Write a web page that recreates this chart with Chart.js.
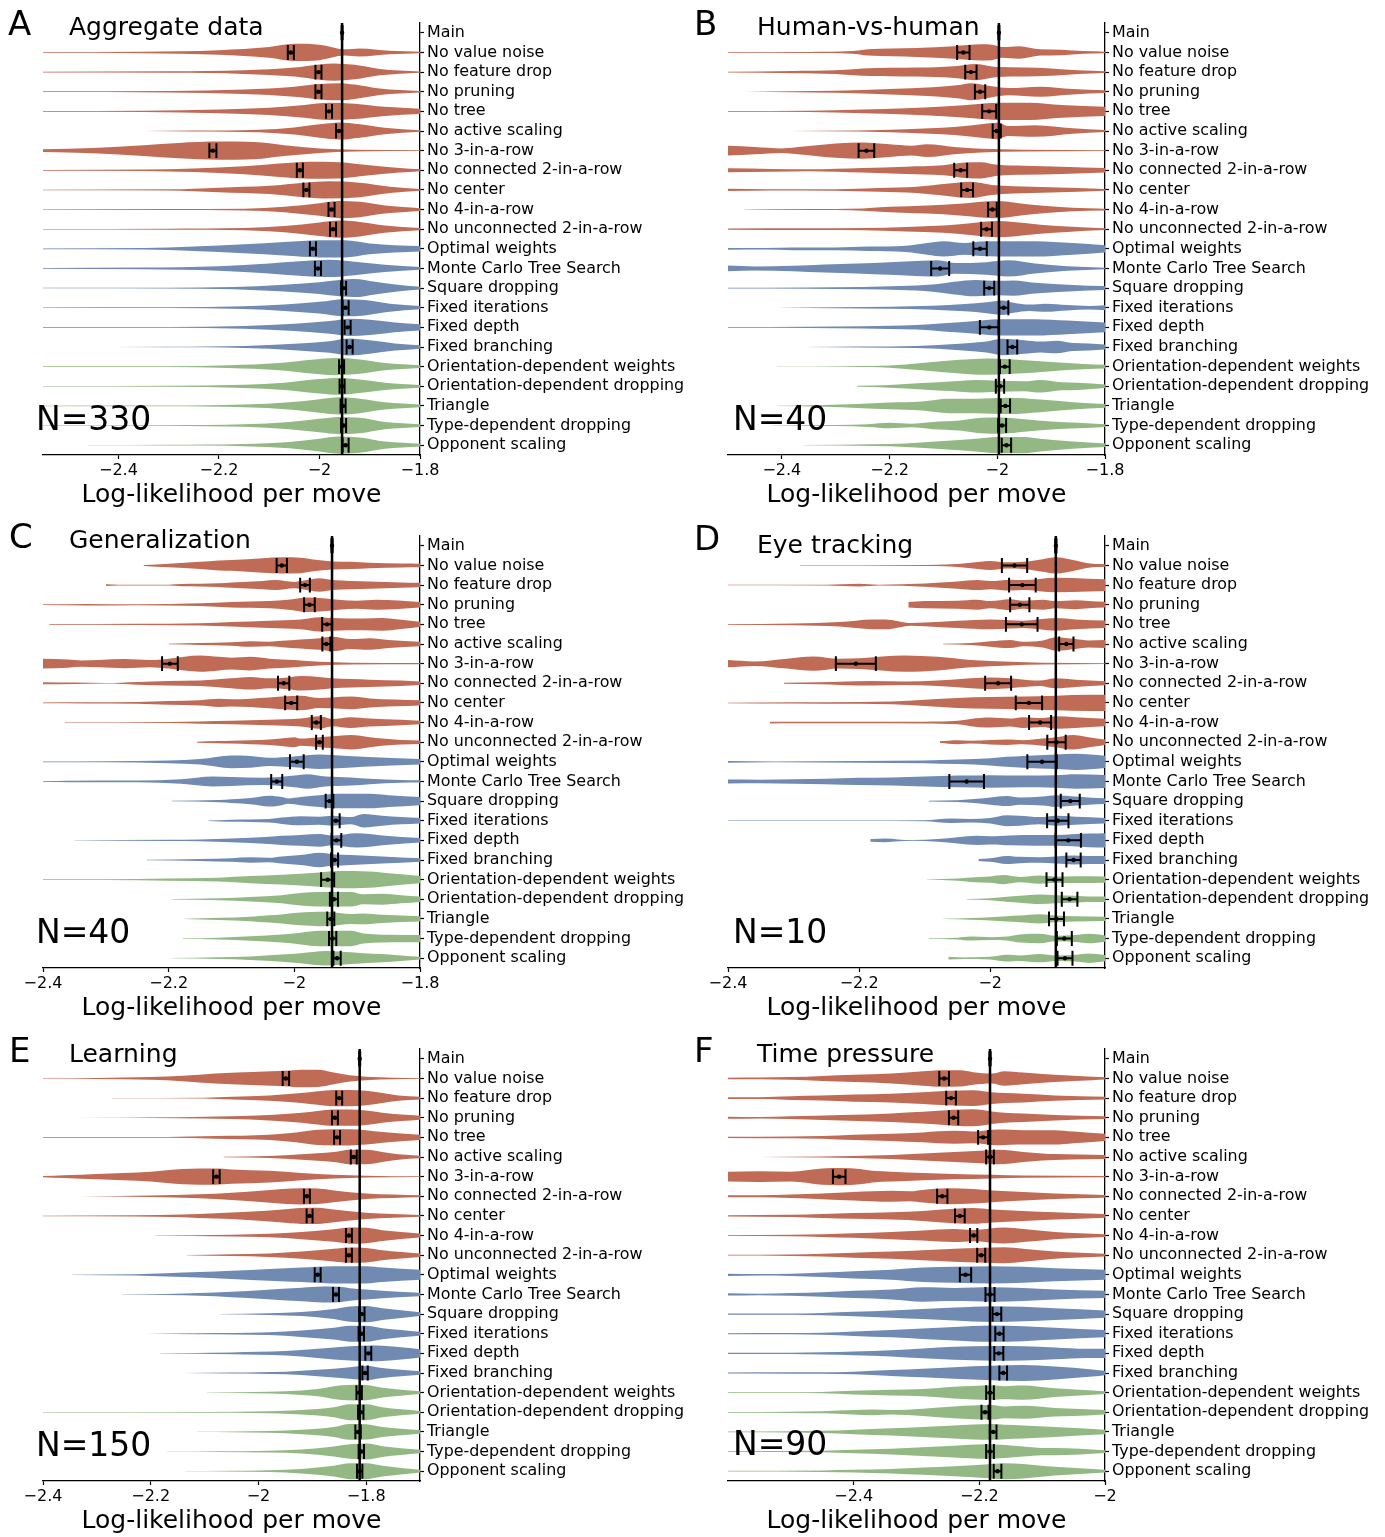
<!DOCTYPE html>
<html>
<head>
<meta charset="utf-8">
<script src="https://cdn.jsdelivr.net/npm/chart.js@4.4.0/dist/chart.umd.min.js"></script>
<style>
  body { margin: 0; background: #fff; width: 1385px; height: 1537px; overflow: hidden; position: relative; }
  .panel { position: absolute; width: 685px; height: 513px; }
</style>
</head>
<body>
<div class="panel" style="left:0;top:0"><canvas id="panelA" width="685" height="513"></canvas></div>
<div class="panel" style="left:685px;top:0"><canvas id="panelB" width="685" height="513"></canvas></div>
<div class="panel" style="left:0;top:513px"><canvas id="panelC" width="685" height="513"></canvas></div>
<div class="panel" style="left:685px;top:513px"><canvas id="panelD" width="685" height="513"></canvas></div>
<div class="panel" style="left:0;top:1026px"><canvas id="panelE" width="685" height="513"></canvas></div>
<div class="panel" style="left:685px;top:1026px"><canvas id="panelF" width="685" height="513"></canvas></div>
<script>
// model names, top to bottom
const models = ['Main', 'No value noise', 'No feature drop', 'No pruning', 'No tree', 'No active scaling',
  'No 3-in-a-row', 'No connected 2-in-a-row', 'No center', 'No 4-in-a-row', 'No unconnected 2-in-a-row',
  'Optimal weights', 'Monte Carlo Tree Search', 'Square dropping', 'Fixed iterations', 'Fixed depth', 'Fixed branching',
  'Orientation-dependent weights', 'Orientation-dependent dropping', 'Triangle', 'Type-dependent dropping', 'Opponent scaling'];
// 0 = lesion, 1 = extension, 2 = variant (Main has no violin)
const modelFamily = [-1, 0, 0, 0, 0, 0, 0, 0, 0, 0, 0, 1, 1, 1, 1, 1, 1, 2, 2, 2, 2, 2];
const familyColors = ['#c06b56', '#718ab2', '#93b884'];

// A: aggregate data
const aggregateRange = [-2.55, -1.8];
const aggregateTicks = [-2.4, -2.2, -2, -1.8];
const aggregateMeans = [-1.955, -2.057, -2.002, -2.002, -1.981, -1.961, -2.212, -2.039, -2.026, -1.976, -1.973,
  -2.013, -2.003, -1.952, -1.948, -1.944, -1.940, -1.956, -1.955, -1.953, -1.952, -1.948];
const aggregateErrors = [0.001, 0.006, 0.006, 0.006, 0.006, 0.006, 0.007, 0.006, 0.006, 0.006, 0.006,
  0.006, 0.006, 0.005, 0.006, 0.006, 0.006, 0.005, 0.005, 0.005, 0.005, 0.006];
const aggregateShapes = [
  [[-2.55,.04],[-2.35,.08],[-2.2,.25],[-2.1,.6],[-2.05,.95],[-2.0,.85],[-1.95,.35],[-1.92,.45],[-1.86,.2],[-1.8,.08]],
  [[-2.55,.04],[-2.3,.08],[-2.15,.2],[-2.05,.5],[-2.0,.85],[-1.97,.95],[-1.93,.8],[-1.88,.35],[-1.8,.06]],
  [[-2.55,.04],[-2.3,.08],[-2.15,.25],[-2.05,.55],[-2.0,.85],[-1.96,.95],[-1.93,.8],[-1.88,.35],[-1.8,.08]],
  [[-2.55,.05],[-2.35,.08],[-2.2,.2],[-2.1,.4],[-2.03,.7],[-1.98,.95],[-1.93,.85],[-1.87,.5],[-1.8,.3]],
  [[-2.35,.01],[-2.25,.05],[-2.12,.15],[-2.05,.4],[-2.0,.75],[-1.96,.95],[-1.92,.75],[-1.87,.35],[-1.8,.08]],
  [[-2.6,.1],[-2.55,.15],[-2.45,.3],[-2.35,.6],[-2.28,.85],[-2.2,1],[-2.13,.95],[-2.07,.6],[-2.0,.25],[-1.93,.1],[-1.8,.05]],
  [[-2.55,.04],[-2.35,.08],[-2.25,.2],[-2.15,.45],[-2.08,.75],[-2.02,.95],[-1.96,.9],[-1.9,.55],[-1.84,.25],[-1.8,.1]],
  [[-2.55,.03],[-2.3,.06],[-2.2,.25],[-2.1,.45],[-2.03,.8],[-1.98,.95],[-1.92,.8],[-1.86,.35],[-1.8,.1]],
  [[-2.55,.03],[-2.3,.05],[-2.15,.1],[-2.07,.3],[-2.0,.7],[-1.96,.95],[-1.92,.85],[-1.87,.45],[-1.8,.15]],
  [[-2.55,.03],[-2.3,.05],[-2.15,.12],[-2.07,.35],[-2.0,.75],[-1.96,.95],[-1.92,.8],[-1.87,.4],[-1.8,.12]],
  [[-2.55,.04],[-2.35,.08],[-2.25,.25],[-2.15,.5],[-2.07,.75],[-2.0,.95],[-1.95,.95],[-1.9,.6],[-1.85,.4],[-1.8,.3]],
  [[-2.55,.04],[-2.35,.1],[-2.2,.25],[-2.1,.55],[-2.04,.8],[-1.98,.95],[-1.93,.75],[-1.87,.4],[-1.8,.15]],
  [[-2.55,.03],[-2.3,.04],[-2.17,.12],[-2.08,.35],[-2.0,.65],[-1.96,.9],[-1.93,1],[-1.89,.7],[-1.84,.35],[-1.8,.15]],
  [[-2.55,.03],[-2.3,.04],[-2.15,.15],[-2.07,.35],[-2.0,.65],[-1.95,.95],[-1.91,.85],[-1.86,.45],[-1.8,.18]],
  [[-2.55,.03],[-2.3,.04],[-2.15,.15],[-2.05,.4],[-1.98,.7],[-1.94,.95],[-1.9,.85],[-1.85,.55],[-1.8,.35]],
  [[-2.52,.01],[-2.3,.04],[-2.15,.12],[-2.05,.35],[-1.98,.65],[-1.94,.95],[-1.9,.75],[-1.85,.4],[-1.8,.18]],
  [[-2.55,.03],[-2.3,.05],[-2.18,.15],[-2.08,.4],[-2.01,.8],[-1.97,.95],[-1.92,.8],[-1.87,.4],[-1.8,.15]],
  [[-2.55,.03],[-2.3,.05],[-2.15,.18],[-2.07,.4],[-2.0,.8],[-1.96,.95],[-1.92,.75],[-1.87,.4],[-1.8,.15]],
  [[-2.55,.03],[-2.3,.04],[-2.15,.15],[-2.06,.4],[-2.0,.75],[-1.96,.95],[-1.92,.8],[-1.87,.4],[-1.8,.15]],
  [[-2.55,.03],[-2.3,.04],[-2.15,.14],[-2.06,.4],[-2.0,.75],[-1.96,.95],[-1.92,.85],[-1.87,.4],[-1.8,.15]],
  [[-2.46,.01],[-2.3,.04],[-2.15,.12],[-2.06,.35],[-2.0,.7],[-1.96,.95],[-1.92,.85],[-1.87,.4],[-1.8,.15]]
];

// B: human-vs-human
const hvhRange = [-2.5, -1.8];
const hvhTicks = [-2.4, -2.2, -2, -1.8];
const hvhMeans = [-1.997, -2.063, -2.049, -2.032, -2.015, -2.001, -2.243, -2.068, -2.056, -2.009, -2.020,
  -2.032, -2.106, -2.015, -1.988, -2.015, -1.972, -1.986, -1.995, -1.985, -1.991, -1.983];
const hvhErrors = [0.001, 0.0115, 0.0105, 0.0096, 0.013, 0.0075, 0.0145, 0.012, 0.011, 0.008, 0.010,
  0.0125, 0.0167, 0.0093, 0.0085, 0.0173, 0.009, 0.009, 0.0077, 0.0087, 0.0074, 0.0087];
const hvhShapes = [
  [[-2.5,.04],[-2.35,.06],[-2.27,.15],[-2.24,.35],[-2.15,.5],[-2.08,.7],[-2.03,.9],[-2.01,.85],[-1.99,.6],[-1.96,.7],[-1.92,.35],[-1.88,.3],[-1.84,.15],[-1.8,.08]],
  [[-2.5,.04],[-2.38,.12],[-2.3,.2],[-2.25,.4],[-2.15,.5],[-2.08,.65],[-2.04,.9],[-2.0,.55],[-1.95,.5],[-1.9,.4],[-1.85,.2],[-1.8,.1]],
  [[-2.465,.01],[-2.38,.05],[-2.3,.1],[-2.2,.3],[-2.12,.5],[-2.07,.75],[-2.05,.95],[-2.01,.6],[-1.98,.4],[-1.92,.55],[-1.86,.3],[-1.8,.15]],
  [[-2.5,.04],[-2.35,.08],[-2.25,.2],[-2.17,.35],[-2.1,.55],[-2.04,.8],[-2.0,.95],[-1.94,.95],[-1.88,.7],[-1.8,.5]],
  [[-2.385,.01],[-2.26,.06],[-2.17,.2],[-2.08,.45],[-2.03,.75],[-2.0,.9],[-1.98,.55],[-1.93,.65],[-1.86,.3],[-1.8,.12]],
  [[-2.55,.6],[-2.5,.55],[-2.45,.4],[-2.4,.25],[-2.36,.45],[-2.3,.8],[-2.25,.9],[-2.2,.7],[-2.16,.55],[-2.13,.7],[-2.08,.4],[-2.03,.2],[-1.95,.1],[-1.8,.04]],
  [[-2.5,.22],[-2.42,.15],[-2.35,.1],[-2.25,.25],[-2.17,.4],[-2.1,.55],[-2.06,.85],[-2.03,.9],[-2.0,.6],[-1.95,.5],[-1.88,.4],[-1.8,.25]],
  [[-2.5,.12],[-2.42,.06],[-2.3,.08],[-2.22,.2],[-2.15,.35],[-2.09,.7],[-2.05,.9],[-2.01,.55],[-1.97,.4],[-1.9,.3],[-1.8,.1]],
  [[-2.47,.01],[-2.35,.05],[-2.25,.12],[-2.2,.3],[-2.13,.45],[-2.07,.65],[-2.0,.95],[-1.96,.7],[-1.92,.45],[-1.86,.2],[-1.8,.1]],
  [[-2.5,.07],[-2.35,.1],[-2.25,.12],[-2.17,.25],[-2.1,.4],[-2.05,.65],[-2.0,.9],[-1.97,.8],[-1.92,.5],[-1.87,.3],[-1.8,.1]],
  [[-2.5,.1],[-2.43,.08],[-2.38,.15],[-2.3,.15],[-2.24,.25],[-2.17,.35],[-2.13,.65],[-2.1,.85],[-2.06,.65],[-2.03,.8],[-2.0,.85],[-1.93,.85],[-1.86,.65],[-1.8,.4]],
  [[-2.5,.32],[-2.45,.22],[-2.38,.3],[-2.32,.45],[-2.26,.55],[-2.2,.7],[-2.14,.85],[-2.11,.9],[-2.08,.6],[-2.02,.7],[-1.98,.9],[-1.93,.55],[-1.87,.25],[-1.8,.08]],
  [[-2.5,.04],[-2.35,.06],[-2.25,.12],[-2.18,.22],[-2.12,.4],[-2.08,.7],[-2.04,.9],[-2.0,.8],[-1.97,.85],[-1.93,.6],[-1.86,.35],[-1.8,.22]],
  [[-2.41,.01],[-2.3,.05],[-2.2,.12],[-2.12,.22],[-2.06,.4],[-2.02,.6],[-1.99,.8],[-1.97,.55],[-1.94,.35],[-1.91,.45],[-1.87,.3],[-1.83,.2],[-1.8,.28]],
  [[-2.5,.04],[-2.35,.07],[-2.25,.12],[-2.15,.25],[-2.1,.45],[-2.04,.7],[-2.0,.9],[-1.93,.9],[-1.87,.75],[-1.8,.55]],
  [[-2.36,.01],[-2.25,.06],[-2.15,.12],[-2.07,.35],[-2.02,.6],[-1.99,.9],[-1.95,.75],[-1.92,.6],[-1.89,.7],[-1.86,.45],[-1.83,.4],[-1.8,.28]],
  [[-2.41,.01],[-2.27,.05],[-2.2,.12],[-2.14,.4],[-2.07,.75],[-2.02,.9],[-1.97,.8],[-1.9,.5],[-1.84,.3],[-1.8,.22]],
  [[-2.26,.06],[-2.2,.15],[-2.14,.35],[-2.08,.55],[-2.04,.7],[-2.0,.6],[-1.95,.55],[-1.92,.7],[-1.88,.45],[-1.85,.4],[-1.8,.2]],
  [[-2.41,.01],[-2.32,.1],[-2.26,.22],[-2.2,.38],[-2.14,.5],[-2.09,.8],[-2.04,.8],[-1.98,.9],[-1.92,.7],[-1.86,.4],[-1.8,.2]],
  [[-2.42,.01],[-2.3,.06],[-2.24,.15],[-2.2,.3],[-2.16,.2],[-2.12,.4],[-2.07,.55],[-2.03,.85],[-1.99,.9],[-1.95,.7],[-1.9,.45],[-1.85,.3],[-1.8,.15]],
  [[-2.36,.01],[-2.23,.1],[-2.17,.2],[-2.1,.45],[-2.04,.7],[-2.0,.9],[-1.95,.9],[-1.92,.7],[-1.86,.4],[-1.8,.2]]
];

// C: generalization
const genRange = [-2.4, -1.8];
const genTicks = [-2.4, -2.2, -2, -1.8];
const genMeans = [-1.940, -2.020, -1.983, -1.976, -1.948, -1.949, -2.198, -2.017, -2.005, -1.965, -1.960,
  -1.996, -2.028, -1.944, -1.934, -1.933, -1.936, -1.947, -1.937, -1.942, -1.939, -1.932];
const genErrors = [0.001, 0.0082, 0.0077, 0.0085, 0.0077, 0.0064, 0.0125, 0.009, 0.0096, 0.0072, 0.0053,
  0.0109, 0.0088, 0.0061, 0.0061, 0.0077, 0.0056, 0.0104, 0.0064, 0.0056, 0.0058, 0.0058];
const genShapes = [
  [[-2.24,.05],[-2.2,.2],[-2.15,.4],[-2.12,.55],[-2.1,.6],[-2.05,.8],[-2.02,.9],[-1.99,.85],[-1.97,.65],[-1.94,.45],[-1.91,.4],[-1.88,.3],[-1.83,.22],[-1.8,.2]],
  [[-2.3,.1],[-2.28,.05],[-2.2,.05],[-2.18,.12],[-2.12,.2],[-2.1,.3],[-2.05,.45],[-2.03,.55],[-2.0,.35],[-1.98,.55],[-1.96,.75],[-1.94,.55],[-1.91,.45],[-1.88,.4],[-1.83,.3],[-1.8,.25]],
  [[-2.4,.04],[-2.33,.08],[-2.25,.05],[-2.15,.15],[-2.1,.3],[-2.04,.4],[-2.01,.55],[-1.98,.8],[-1.95,.7],[-1.93,.55],[-1.9,.45],[-1.87,.55],[-1.8,.3]],
  [[-2.39,.03],[-2.25,.06],[-2.15,.12],[-2.1,.25],[-2.04,.4],[-1.99,.55],[-1.96,.8],[-1.94,.7],[-1.89,.65],[-1.86,.7],[-1.83,.5],[-1.8,.3]],
  [[-2.2,.02],[-2.15,.1],[-2.1,.18],[-2.07,.3],[-2.04,.25],[-2.02,.35],[-1.99,.5],[-1.96,.65],[-1.94,.8],[-1.91,.55],[-1.88,.65],[-1.85,.45],[-1.8,.25]],
  [[-2.45,.6],[-2.4,.55],[-2.36,.45],[-2.34,.35],[-2.31,.4],[-2.27,.5],[-2.23,.4],[-2.2,.55],[-2.15,.9],[-2.12,.75],[-2.1,.65],[-2.07,.75],[-2.04,.55],[-2.0,.4],[-1.96,.2],[-1.91,.1],[-1.8,.06]],
  [[-2.4,.12],[-2.35,.08],[-2.3,.03],[-2.25,.15],[-2.2,.25],[-2.15,.3],[-2.1,.55],[-2.07,.7],[-2.04,.55],[-2.01,.65],[-1.99,.8],[-1.96,.7],[-1.94,.55],[-1.88,.4],[-1.83,.3],[-1.8,.2]],
  [[-2.4,.04],[-2.33,.06],[-2.25,.1],[-2.2,.2],[-2.15,.3],[-2.12,.45],[-2.1,.4],[-2.04,.6],[-2.02,.7],[-1.99,.8],[-1.96,.55],[-1.94,.6],[-1.91,.7],[-1.88,.5],[-1.8,.3]],
  [[-2.365,.02],[-2.2,.05],[-2.15,.12],[-2.1,.2],[-2.04,.3],[-1.99,.45],[-1.96,.7],[-1.94,.4],[-1.91,.6],[-1.88,.45],[-1.83,.3],[-1.8,.2]],
  [[-2.155,.05],[-2.12,.12],[-2.1,.15],[-2.07,.22],[-2.04,.3],[-2.01,.5],[-2.0,.55],[-1.99,.4],[-1.96,.55],[-1.94,.65],[-1.91,.8],[-1.88,.55],[-1.86,.4],[-1.83,.25],[-1.8,.2]],
  [[-2.4,.04],[-2.3,.06],[-2.2,.15],[-2.15,.3],[-2.1,.7],[-2.07,.65],[-2.04,.45],[-2.0,.6],[-1.96,.8],[-1.94,.75],[-1.89,.55],[-1.8,.3]],
  [[-2.4,.04],[-2.36,.08],[-2.25,.1],[-2.18,.25],[-2.13,.55],[-2.1,.5],[-2.05,.4],[-2.0,.65],[-1.98,.8],[-1.95,.55],[-1.91,.45],[-1.88,.3],[-1.83,.15],[-1.8,.12]],
  [[-2.195,.03],[-2.12,.12],[-2.1,.2],[-2.07,.35],[-2.04,.6],[-2.02,.45],[-2.01,.3],[-1.99,.45],[-1.96,.65],[-1.93,.8],[-1.88,.8],[-1.85,.65],[-1.8,.45]],
  [[-2.137,.02],[-2.1,.12],[-2.04,.2],[-2.02,.35],[-1.99,.5],[-1.96,.45],[-1.94,.55],[-1.91,.4],[-1.89,.75],[-1.86,.55],[-1.83,.4],[-1.8,.3]],
  [[-2.35,.02],[-2.2,.06],[-2.15,.1],[-2.1,.22],[-2.04,.4],[-2.02,.5],[-1.99,.6],[-1.96,.7],[-1.94,.55],[-1.9,.8],[-1.86,.55],[-1.8,.25]],
  [[-2.235,.02],[-2.15,.1],[-2.1,.2],[-2.07,.3],[-2.04,.25],[-2.02,.4],[-1.99,.55],[-1.96,.8],[-1.94,.65],[-1.91,.55],[-1.86,.4],[-1.8,.2]],
  [[-2.4,.03],[-2.3,.05],[-2.2,.12],[-2.12,.22],[-2.07,.4],[-2.02,.55],[-1.96,.8],[-1.93,.95],[-1.88,.9],[-1.85,.7],[-1.8,.4]],
  [[-2.195,.02],[-2.12,.1],[-2.07,.25],[-2.02,.45],[-1.99,.7],[-1.96,.8],[-1.91,.8],[-1.89,.55],[-1.86,.6],[-1.83,.45],[-1.8,.3]],
  [[-2.175,.02],[-2.12,.12],[-2.07,.25],[-2.04,.4],[-2.02,.5],[-1.99,.7],[-1.96,.8],[-1.94,.75],[-1.91,.55],[-1.89,.6],[-1.86,.45],[-1.8,.3]],
  [[-2.178,.02],[-2.12,.1],[-2.07,.25],[-2.02,.45],[-1.99,.65],[-1.96,.85],[-1.91,.85],[-1.89,.55],[-1.83,.4],[-1.8,.4]],
  [[-2.195,.02],[-2.12,.1],[-2.07,.2],[-2.02,.4],[-1.99,.55],[-1.95,.8],[-1.91,.65],[-1.89,.55],[-1.86,.45],[-1.83,.3],[-1.8,.15]]
];

// D: eye tracking
const eyeRange = [-2.4, -1.825];
const eyeTicks = [-2.4, -2.2, -2];
const eyeMeans = [-1.900, -1.963, -1.951, -1.955, -1.952, -1.884, -2.205, -1.988, -1.941, -1.924, -1.899,
  -1.921, -2.036, -1.878, -1.897, -1.881, -1.873, -1.902, -1.879, -1.899, -1.887, -1.886];
const eyeErrors = [0.001, 0.0193, 0.0203, 0.0147, 0.0241, 0.0109, 0.0305, 0.0198, 0.0201, 0.0168, 0.014,
  0.0224, 0.0264, 0.0145, 0.0163, 0.0193, 0.0109, 0.0122, 0.0119, 0.0114, 0.0114, 0.0114];
const eyeShapes = [
  [[-2.29,.03],[-2.1,.06],[-2.06,.12],[-2.03,.3],[-2.0,.5],[-1.975,.35],[-1.95,.4],[-1.92,.7],[-1.9,.9],[-1.87,.55],[-1.85,.25],[-1.82,.12]],
  [[-2.4,.03],[-2.25,.04],[-2.2,.15],[-2.17,.05],[-2.1,.18],[-2.05,.4],[-2.02,.55],[-2.0,.45],[-1.97,.6],[-1.95,.55],[-1.9,.8],[-1.85,.7],[-1.82,.65]],
  [[-2.125,.3],[-2.1,.4],[-2.05,.45],[-2.02,.55],[-2.0,.4],[-1.97,.6],[-1.95,.45],[-1.92,.55],[-1.9,.4],[-1.87,.5],[-1.85,.4],[-1.82,.3]],
  [[-2.4,.03],[-2.3,.1],[-2.23,.25],[-2.18,.55],[-2.16,.55],[-2.12,.15],[-2.1,.2],[-2.05,.4],[-2.0,.55],[-1.97,.45],[-1.95,.4],[-1.9,.7],[-1.87,.55],[-1.82,.4]],
  [[-2.072,.03],[-2.03,.1],[-2.0,.3],[-1.97,.45],[-1.95,.25],[-1.92,.4],[-1.9,.75],[-1.87,.55],[-1.85,.4],[-1.82,.45]],
  [[-2.4,.4],[-2.36,.25],[-2.31,.55],[-2.27,.8],[-2.23,.55],[-2.2,.6],[-2.13,.9],[-2.08,.75],[-2.03,.4],[-1.97,.2],[-1.92,.1],[-1.82,.04]],
  [[-2.315,.05],[-2.26,.1],[-2.23,.18],[-2.18,.25],[-2.13,.2],[-2.08,.3],[-2.03,.55],[-2.0,.65],[-1.97,.55],[-1.955,.45],[-1.925,.3],[-1.9,.55],[-1.87,.4],[-1.82,.2]],
  [[-2.4,.03],[-2.3,.06],[-2.2,.1],[-2.15,.15],[-2.1,.35],[-2.05,.55],[-2.0,.65],[-1.95,.7],[-1.9,.8],[-1.85,.9],[-1.82,.9]],
  [[-2.336,.1],[-2.3,.08],[-2.2,.08],[-2.1,.1],[-2.05,.2],[-2.03,.4],[-2.0,.55],[-1.97,.45],[-1.95,.6],[-1.92,.5],[-1.9,.7],[-1.87,.6],[-1.82,.4]],
  [[-2.077,.1],[-2.05,.22],[-2.03,.15],[-2.0,.25],[-1.975,.3],[-1.95,.22],[-1.92,.4],[-1.9,.55],[-1.875,.8],[-1.85,.55],[-1.825,.3]],
  [[-2.4,.1],[-2.33,.04],[-2.2,.1],[-2.1,.15],[-2.05,.25],[-2.0,.4],[-1.975,.55],[-1.95,.65],[-1.9,.8],[-1.87,.9],[-1.82,.65]],
  [[-2.4,.22],[-2.35,.2],[-2.3,.25],[-2.25,.3],[-2.2,.4],[-2.15,.45],[-2.1,.55],[-2.05,.65],[-2.0,.7],[-1.95,.65],[-1.9,.7],[-1.87,.8],[-1.82,.7]],
  [[-2.094,.05],[-2.05,.1],[-2.02,.25],[-2.0,.4],[-1.975,.55],[-1.955,.4],[-1.92,.5],[-1.9,.65],[-1.87,.5],[-1.85,.4],[-1.82,.3]],
  [[-2.4,.03],[-2.2,.03],[-2.1,.06],[-2.06,.25],[-2.03,.2],[-2.0,.3],[-1.975,.6],[-1.955,.55],[-1.925,.4],[-1.9,.55],[-1.87,.45],[-1.82,.3]],
  [[-2.183,.15],[-2.16,.2],[-2.14,.1],[-2.12,.03],[-2.08,.15],[-2.05,.35],[-2.02,.5],[-2.0,.45],[-1.97,.55],[-1.93,.6],[-1.9,.6],[-1.85,.75],[-1.82,.8]],
  [[-2.018,.1],[-2.0,.2],[-1.975,.45],[-1.955,.35],[-1.925,.3],[-1.9,.4],[-1.873,.5],[-1.85,.45],[-1.82,.45]],
  [[-2.097,.02],[-2.05,.12],[-2.03,.25],[-2.0,.35],[-1.98,.5],[-1.955,.3],[-1.925,.45],[-1.9,.35],[-1.87,.38],[-1.82,.35]],
  [[-2.036,.03],[-2.0,.12],[-1.975,.28],[-1.955,.38],[-1.925,.52],[-1.9,.45],[-1.87,.38],[-1.85,.3],[-1.82,.3]],
  [[-2.072,.02],[-2.03,.1],[-2.0,.18],[-1.975,.3],[-1.955,.38],[-1.925,.52],[-1.9,.38],[-1.87,.3],[-1.82,.22]],
  [[-2.094,.02],[-2.05,.1],[-2.03,.22],[-2.0,.15],[-1.975,.22],[-1.955,.45],[-1.925,.52],[-1.9,.3],[-1.87,.38],[-1.85,.52],[-1.82,.3]],
  [[-2.064,.15],[-2.04,.08],[-2.0,.15],[-1.975,.38],[-1.955,.3],[-1.925,.45],[-1.9,.3],[-1.87,.38],[-1.85,.52],[-1.82,.3]]
];

// E: learning
const learnRange = [-2.4, -1.7];
const learnTicks = [-2.4, -2.2, -2, -1.8];
const learnMeans = [-1.812, -1.949, -1.850, -1.858, -1.854, -1.823, -2.078, -1.910, -1.905, -1.832, -1.832,
  -1.890, -1.856, -1.808, -1.809, -1.796, -1.802, -1.813, -1.810, -1.815, -1.809, -1.812];
const learnErrors = [0.001, 0.006, 0.0055, 0.0055, 0.0055, 0.0055, 0.006, 0.0055, 0.0055, 0.0055, 0.0055,
  0.0055, 0.0055, 0.005, 0.005, 0.0055, 0.005, 0.005, 0.005, 0.005, 0.005, 0.005];
const learnShapes = [
  [[-2.4,.03],[-2.3,.06],[-2.2,.15],[-2.14,.3],[-2.08,.55],[-2.0,.75],[-1.95,.85],[-1.92,.97],[-1.89,.95],[-1.86,.65],[-1.83,.35],[-1.8,.2],[-1.7,.04]],
  [[-2.273,.01],[-2.1,.05],[-2.05,.15],[-1.98,.3],[-1.92,.55],[-1.89,.75],[-1.86,.9],[-1.83,.9],[-1.8,.8],[-1.77,.55],[-1.74,.3],[-1.7,.15]],
  [[-2.34,.01],[-2.15,.05],[-2.05,.15],[-1.98,.3],[-1.92,.55],[-1.89,.75],[-1.86,.9],[-1.83,.9],[-1.8,.8],[-1.77,.55],[-1.7,.22]],
  [[-2.4,.03],[-2.17,.05],[-2.08,.15],[-1.98,.3],[-1.93,.55],[-1.89,.85],[-1.83,.9],[-1.8,.8],[-1.77,.6],[-1.7,.3]],
  [[-2.065,.02],[-1.98,.1],[-1.92,.3],[-1.86,.55],[-1.83,.8],[-1.8,.8],[-1.77,.55],[-1.74,.3],[-1.7,.15]],
  [[-2.4,.06],[-2.36,.15],[-2.3,.3],[-2.2,.55],[-2.14,.85],[-2.08,.9],[-2.05,.8],[-1.98,.65],[-1.92,.4],[-1.86,.22],[-1.8,.1],[-1.7,.03]],
  [[-2.335,.01],[-2.2,.08],[-2.11,.22],[-2.05,.4],[-1.99,.65],[-1.92,.9],[-1.89,.85],[-1.86,.65],[-1.8,.3],[-1.7,.1]],
  [[-2.4,.03],[-2.23,.06],[-2.14,.15],[-2.08,.3],[-2.02,.45],[-1.95,.75],[-1.91,.9],[-1.89,.9],[-1.86,.7],[-1.8,.35],[-1.7,.1]],
  [[-2.192,.01],[-2.05,.1],[-1.98,.2],[-1.92,.4],[-1.86,.7],[-1.83,.9],[-1.8,.85],[-1.77,.6],[-1.7,.22]],
  [[-2.133,.01],[-2.05,.1],[-1.98,.2],[-1.92,.4],[-1.86,.7],[-1.83,.85],[-1.8,.8],[-1.77,.55],[-1.7,.2]],
  [[-2.347,.01],[-2.23,.07],[-2.17,.18],[-2.11,.3],[-2.05,.45],[-1.98,.65],[-1.92,.8],[-1.86,.95],[-1.8,.95],[-1.77,.8],[-1.7,.55]],
  [[-2.254,.01],[-2.17,.06],[-2.11,.15],[-2.05,.3],[-1.99,.5],[-1.92,.75],[-1.88,.88],[-1.85,.85],[-1.83,.7],[-1.8,.55],[-1.74,.3],[-1.7,.2]],
  [[-2.071,.01],[-1.98,.1],[-1.92,.22],[-1.86,.55],[-1.83,.85],[-1.8,.9],[-1.77,.65],[-1.7,.2]],
  [[-2.208,.01],[-2.11,.05],[-1.98,.15],[-1.92,.35],[-1.86,.65],[-1.83,.88],[-1.8,.88],[-1.77,.6],[-1.7,.22]],
  [[-2.183,.01],[-2.05,.1],[-1.95,.25],[-1.89,.5],[-1.83,.8],[-1.79,.88],[-1.77,.85],[-1.73,.65],[-1.7,.45]],
  [[-2.142,.01],[-2.05,.06],[-1.95,.15],[-1.89,.35],[-1.83,.65],[-1.8,.8],[-1.77,.55],[-1.7,.2]],
  [[-2.096,.01],[-1.98,.1],[-1.92,.25],[-1.89,.4],[-1.85,.8],[-1.82,.88],[-1.8,.85],[-1.77,.55],[-1.7,.15]],
  [[-2.4,.02],[-2.1,.04],[-1.98,.1],[-1.92,.25],[-1.86,.55],[-1.83,.88],[-1.8,.88],[-1.77,.55],[-1.7,.15]],
  [[-2.114,.01],[-1.98,.1],[-1.92,.25],[-1.86,.55],[-1.83,.88],[-1.8,.85],[-1.77,.55],[-1.7,.2]],
  [[-2.17,.01],[-1.98,.1],[-1.92,.22],[-1.86,.55],[-1.83,.8],[-1.8,.88],[-1.77,.6],[-1.7,.2]],
  [[-2.136,.01],[-1.98,.1],[-1.92,.25],[-1.86,.6],[-1.83,.88],[-1.8,.88],[-1.77,.6],[-1.7,.15]]
];

// F: time pressure
const timeRange = [-2.6, -2.0];
const timeTicks = [-2.4, -2.2, -2];
const timeMeans = [-2.183, -2.256, -2.245, -2.241, -2.194, -2.183, -2.423, -2.259, -2.231, -2.209, -2.197,
  -2.222, -2.183, -2.172, -2.168, -2.169, -2.162, -2.183, -2.191, -2.178, -2.183, -2.171];
const timeErrors = [0.001, 0.0077, 0.0077, 0.0074, 0.008, 0.0061, 0.01, 0.0082, 0.0077, 0.0058, 0.0064,
  0.009, 0.0072, 0.0069, 0.0066, 0.0072, 0.0061, 0.0061, 0.0056, 0.0053, 0.0061, 0.0061];
const timeShapes = [
  [[-2.6,.08],[-2.55,.1],[-2.5,.15],[-2.45,.28],[-2.4,.4],[-2.34,.55],[-2.29,.8],[-2.26,.92],[-2.23,.9],[-2.21,.7],[-2.18,.55],[-2.16,.8],[-2.13,.65],[-2.08,.4],[-2.02,.2],[-2.0,.12]],
  [[-2.6,.1],[-2.55,.1],[-2.5,.2],[-2.45,.28],[-2.4,.4],[-2.34,.48],[-2.29,.65],[-2.25,.8],[-2.21,.88],[-2.18,.65],[-2.16,.55],[-2.13,.48],[-2.08,.3],[-2.0,.15]],
  [[-2.6,.12],[-2.55,.08],[-2.5,.15],[-2.42,.3],[-2.34,.48],[-2.29,.65],[-2.24,.88],[-2.21,.95],[-2.18,.7],[-2.16,.55],[-2.13,.48],[-2.08,.3],[-2.0,.15]],
  [[-2.6,.06],[-2.5,.1],[-2.45,.15],[-2.4,.3],[-2.34,.4],[-2.29,.55],[-2.24,.72],[-2.21,.65],[-2.17,.88],[-2.13,.8],[-2.08,.8],[-2.05,.65],[-2.0,.4]],
  [[-2.549,.01],[-2.45,.06],[-2.4,.1],[-2.34,.22],[-2.29,.38],[-2.24,.55],[-2.19,.72],[-2.17,.8],[-2.13,.55],[-2.1,.4],[-2.08,.32],[-2.0,.22]],
  [[-2.6,.55],[-2.55,.6],[-2.5,.55],[-2.45,.9],[-2.42,.95],[-2.39,.85],[-2.37,.65],[-2.34,.55],[-2.29,.4],[-2.24,.3],[-2.18,.2],[-2.13,.12],[-2.0,.07]],
  [[-2.6,.1],[-2.55,.12],[-2.5,.2],[-2.45,.32],[-2.4,.48],[-2.34,.62],[-2.31,.55],[-2.29,.7],[-2.25,.88],[-2.21,.8],[-2.18,.65],[-2.13,.48],[-2.08,.3],[-2.0,.15]],
  [[-2.6,.06],[-2.5,.12],[-2.45,.22],[-2.4,.32],[-2.34,.4],[-2.29,.55],[-2.24,.8],[-2.21,.88],[-2.18,.72],[-2.13,.55],[-2.08,.4],[-2.0,.2]],
  [[-2.6,.04],[-2.5,.08],[-2.45,.15],[-2.4,.25],[-2.34,.4],[-2.29,.55],[-2.24,.72],[-2.21,.62],[-2.16,.88],[-2.13,.72],[-2.08,.4],[-2.0,.15]],
  [[-2.6,.04],[-2.5,.08],[-2.45,.15],[-2.4,.28],[-2.34,.4],[-2.29,.55],[-2.24,.72],[-2.2,.8],[-2.16,.88],[-2.13,.72],[-2.08,.4],[-2.0,.15]],
  [[-2.6,.12],[-2.55,.08],[-2.5,.12],[-2.45,.25],[-2.4,.4],[-2.34,.55],[-2.29,.8],[-2.24,.88],[-2.18,.95],[-2.13,.88],[-2.08,.72],[-2.0,.55]],
  [[-2.6,.12],[-2.55,.08],[-2.5,.15],[-2.45,.25],[-2.4,.4],[-2.34,.55],[-2.29,.8],[-2.24,.72],[-2.18,.8],[-2.13,.72],[-2.08,.55],[-2.0,.4]],
  [[-2.6,.06],[-2.5,.06],[-2.45,.12],[-2.4,.25],[-2.34,.4],[-2.29,.55],[-2.24,.72],[-2.18,.88],[-2.13,.8],[-2.08,.65],[-2.0,.4]],
  [[-2.6,.06],[-2.5,.07],[-2.45,.12],[-2.4,.25],[-2.34,.4],[-2.29,.58],[-2.24,.75],[-2.18,.9],[-2.13,.82],[-2.08,.65],[-2.0,.4]],
  [[-2.6,.06],[-2.5,.07],[-2.45,.12],[-2.4,.2],[-2.34,.35],[-2.29,.55],[-2.24,.72],[-2.18,.82],[-2.13,.8],[-2.08,.65],[-2.03,.5],[-2.0,.5]],
  [[-2.6,.06],[-2.5,.07],[-2.45,.08],[-2.4,.15],[-2.34,.32],[-2.29,.48],[-2.24,.65],[-2.18,.8],[-2.13,.88],[-2.08,.72],[-2.02,.4],[-2.0,.25]],
  [[-2.6,.04],[-2.5,.04],[-2.45,.08],[-2.4,.2],[-2.34,.32],[-2.29,.4],[-2.24,.65],[-2.18,.8],[-2.16,.72],[-2.13,.8],[-2.08,.48],[-2.0,.15]],
  [[-2.6,.04],[-2.5,.07],[-2.45,.12],[-2.4,.25],[-2.37,.32],[-2.34,.25],[-2.29,.4],[-2.24,.65],[-2.18,.8],[-2.16,.65],[-2.13,.72],[-2.08,.48],[-2.02,.32],[-2.0,.25]],
  [[-2.6,.04],[-2.5,.07],[-2.45,.12],[-2.4,.25],[-2.34,.4],[-2.29,.55],[-2.24,.72],[-2.18,.88],[-2.16,.8],[-2.13,.72],[-2.08,.55],[-2.0,.25]],
  [[-2.6,.04],[-2.45,.08],[-2.4,.2],[-2.34,.32],[-2.29,.48],[-2.24,.65],[-2.19,.8],[-2.16,.72],[-2.13,.55],[-2.1,.4],[-2.08,.4],[-2.0,.15]],
  [[-2.6,.04],[-2.45,.08],[-2.4,.15],[-2.34,.25],[-2.29,.4],[-2.24,.55],[-2.18,.8],[-2.16,.88],[-2.13,.8],[-2.08,.48],[-2.0,.15]]
];

const FONT = '"DejaVu Sans", "Liberation Sans", sans-serif';
const VIOLIN_HALF = 0.46;   // half-width of a full-density violin, in rows
const CAP_HALF = 0.38;      // error bar cap half-height, in rows

Chart.defaults.font.family = FONT;
Chart.defaults.color = '#000';

// horizontal error bars (mean +/- s.e.m.) with caps
const errorBarPlugin = {
  id: 'errorBars',
  afterDatasetsDraw(chart, args, opts) {
    const { ctx, scales: { x, y } } = chart;
    ctx.save();
    ctx.strokeStyle = '#000';
    ctx.lineWidth = 2;
    opts.means.forEach((m, i) => {
      const lo = x.getPixelForValue(m - opts.errors[i]);
      const hi = x.getPixelForValue(m + opts.errors[i]);
      const yc = y.getPixelForValue(i);
      const cap = Math.abs(y.getPixelForValue(i + CAP_HALF) - yc);
      ctx.beginPath();
      ctx.moveTo(lo, yc); ctx.lineTo(hi, yc);
      ctx.moveTo(lo, yc - cap); ctx.lineTo(lo, yc + cap);
      ctx.moveTo(hi, yc - cap); ctx.lineTo(hi, yc + cap);
      ctx.stroke();
    });
    ctx.restore();
  }
};

// panel letter, title and sample size
const panelTextPlugin = {
  id: 'panelText',
  afterDraw(chart, args, o) {
    const ctx = chart.ctx;
    ctx.save();
    ctx.fillStyle = '#000';
    ctx.textBaseline = 'alphabetic';
    ctx.textAlign = 'left';
    ctx.font = '34px ' + FONT;
    ctx.fillText(o.letter, o.letterAt[0], o.letterAt[1]);
    ctx.font = '25px ' + FONT;
    ctx.fillText(o.title, o.titleAt[0], o.titleAt[1]);
    ctx.font = '33px ' + FONT;
    ctx.fillText(o.n, o.nAt[0], o.nAt[1]);
    ctx.restore();
  }
};

function formatTick(v) {
  return String(v).replace('-', '\u2212');
}

function buildPanel(p) {
  const datasets = [];

  // means
  datasets.push({
    data: p.means.map((m, i) => ({ x: m, y: i })),
    showLine: false,
    pointRadius: 2.2,
    pointBackgroundColor: '#000',
    pointBorderWidth: 0,
    order: 0
  });

  // reference line at the main model's mean
  datasets.push({
    data: [{ x: p.means[0], y: -0.5 }, { x: p.means[0], y: models.length - 0.5 }],
    borderColor: '#000',
    borderWidth: 2.5,
    pointRadius: 0,
    fill: false,
    order: 1
  });

  // violins: upper edge, then lower edge filled back to it
  p.shapes.forEach((shape, k) => {
    const row = k + 1;
    const color = familyColors[modelFamily[row]];
    const edge = {
      borderColor: 'rgba(0,0,0,0)',
      borderWidth: 0,
      pointRadius: 0,
      cubicInterpolationMode: 'monotone',
      order: 2
    };
    datasets.push(Object.assign({}, edge, {
      data: shape.map(([x, w]) => ({ x, y: row - w * VIOLIN_HALF })),
      fill: false
    }));
    datasets.push(Object.assign({}, edge, {
      data: shape.map(([x, w]) => ({ x, y: row + w * VIOLIN_HALF })),
      fill: '-1',
      backgroundColor: color
    }));
  });

  return new Chart(document.getElementById(p.canvas), {
    type: 'line',
    data: { datasets },
    plugins: [errorBarPlugin, panelTextPlugin],
    options: {
      responsive: false,
      animation: false,
      events: [],
      layout: { padding: { top: 23, left: 43, right: 0, bottom: 0 } },
      plugins: {
        legend: { display: false },
        tooltip: { enabled: false },
        errorBars: { means: p.means, errors: p.errors },
        panelText: { letter: p.letter, title: p.title, n: p.n, letterAt: p.letterAt, titleAt: p.titleAt, nAt: p.nAt }
      },
      scales: {
        x: {
          type: 'linear',
          min: p.range[0],
          max: p.range[1],
          afterBuildTicks: s => { s.ticks = p.ticks.map(v => ({ value: v })); },
          afterFit: s => { s.height = 58; },
          ticks: { callback: v => formatTick(v), font: { size: 16 }, color: '#000', padding: 2, maxRotation: 0, autoSkip: false },
          grid: { display: true, drawOnChartArea: false, drawTicks: true, tickLength: 4, color: '#000', tickWidth: 1.2 },
          border: { display: true, color: '#000', width: 1.3 },
          title: { display: true, text: 'Log-likelihood per move', font: { size: 25 }, color: '#000', padding: { top: 0, bottom: 3 } }
        },
        y: {
          type: 'linear',
          position: 'right',
          reverse: true,
          min: -0.5,
          max: models.length - 0.5,
          afterBuildTicks: s => { s.ticks = models.map((_, i) => ({ value: i })); },
          afterFit: s => { s.width = 265; },
          ticks: { callback: (v, i) => models[i], font: { size: 15.9 }, color: '#000', padding: 3, autoSkip: false },
          grid: { display: true, drawOnChartArea: false, drawTicks: true, tickLength: 4, color: '#000', tickWidth: 1.2 },
          border: { display: true, color: '#000', width: 1.3 }
        }
      }
    }
  });
}

const panels = [
  { canvas: 'panelA', letter: 'A', title: 'Aggregate data', n: 'N=330', range: aggregateRange, ticks: aggregateTicks,
    means: aggregateMeans, errors: aggregateErrors, shapes: aggregateShapes, letterAt: [8, 35], titleAt: [69, 35], nAt: [36, 430] },
  { canvas: 'panelB', letter: 'B', title: 'Human-vs-human', n: 'N=40', range: hvhRange, ticks: hvhTicks,
    means: hvhMeans, errors: hvhErrors, shapes: hvhShapes, letterAt: [9, 35], titleAt: [72, 35], nAt: [48, 430] },
  { canvas: 'panelC', letter: 'C', title: 'Generalization', n: 'N=40', range: genRange, ticks: genTicks,
    means: genMeans, errors: genErrors, shapes: genShapes, letterAt: [9, 35], titleAt: [69, 35], nAt: [36, 430] },
  { canvas: 'panelD', letter: 'D', title: 'Eye tracking', n: 'N=10', range: eyeRange, ticks: eyeTicks,
    means: eyeMeans, errors: eyeErrors, shapes: eyeShapes, letterAt: [9, 37], titleAt: [72, 40], nAt: [48, 430] },
  { canvas: 'panelE', letter: 'E', title: 'Learning', n: 'N=150', range: learnRange, ticks: learnTicks,
    means: learnMeans, errors: learnErrors, shapes: learnShapes, letterAt: [9, 36], titleAt: [69, 36], nAt: [36, 430] },
  { canvas: 'panelF', letter: 'F', title: 'Time pressure', n: 'N=90', range: timeRange, ticks: timeTicks,
    means: timeMeans, errors: timeErrors, shapes: timeShapes, letterAt: [9, 36], titleAt: [72, 36], nAt: [48, 429] }
];

panels.forEach(buildPanel);
</script>
</body>
</html>
